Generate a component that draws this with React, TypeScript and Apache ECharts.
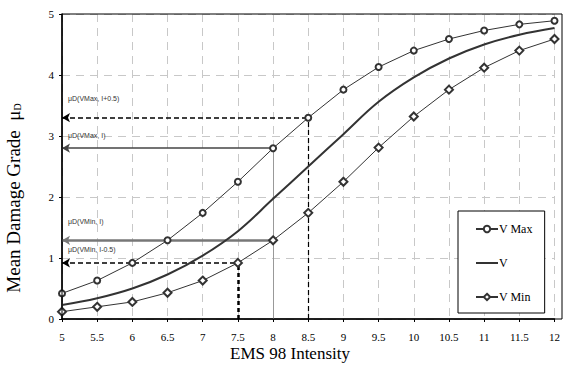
import React, { useEffect, useRef } from "react";
import * as echarts from "echarts";

const intensity = [5, 5.5, 6, 6.5, 7, 7.5, 8, 8.5, 9, 9.5, 10, 10.5, 11, 11.5, 12];
const vMax = [0.42, 0.63, 0.92, 1.29, 1.74, 2.25, 2.8, 3.3, 3.76, 4.13, 4.4, 4.59, 4.73, 4.83, 4.89];
const vMid = [0.23, 0.34, 0.5, 0.73, 1.04, 1.44, 1.97, 2.5, 3.03, 3.56, 3.96, 4.27, 4.5, 4.66, 4.77];
const vMin = [0.12, 0.2, 0.28, 0.43, 0.63, 0.92, 1.29, 1.74, 2.25, 2.81, 3.32, 3.76, 4.12, 4.4, 4.59];
const xTicks = ["5", "5.5", "6", "6.5", "7", "7.5", "8", "8.5", "9", "9.5", "10", "10.5", "11", "11.5", "12"];
const seriesNames = ["V Max", "V", "V Min"];
const annotationLabels = ["μD(VMax, I+0.5)", "μD(VMax, I)", "μD(VMin, I)", "μD(VMin, I-0.5)"];

const SERIF = "Liberation Serif";
const SANS = "Liberation Sans";

function pairs(ys: number[]) {
  return intensity.map((x, i) => [x, ys[i]]);
}

export default function App() {
  const ref = useRef<HTMLDivElement>(null);
  useEffect(() => {
    if (!ref.current) return;
    const chart = echarts.init(ref.current, undefined, { renderer: "svg" });
    const xStart = intensity[0];
    const iMaxHi = 7; // I+0.5 = 8.5
    const iMaxI = 6; // I = 8
    const iMinI = 6; // I = 8
    const iMinLo = 5; // I-0.5 = 7.5

    const hLine = (x: number, y: number, label: string, style: any, dist: number) => [
      {
        coord: [xStart, y],
        symbol: "arrow",
        symbolSize: [7, 8],
        lineStyle: style,
        label: {
          show: true,
          position: "insideStartTop",
          formatter: label,
          distance: [6, dist],
          color: "#333",
          fontSize: 7,
          fontFamily: SANS,
        },
      },
      { coord: [x, y], symbol: "none" },
    ];
    const vLine = (x: number, y: number, style: any) => [
      { coord: [x, 0], symbol: "none", lineStyle: style, label: { show: false } },
      { coord: [x, y], symbol: "none" },
    ];

    chart.setOption({
      animation: false,
      backgroundColor: "#fff",
      grid: { left: 62, right: 1, top: 14, bottom: 46, containLabel: false, show: false },
      xAxis: {
        type: "value",
        min: 5,
        max: 12,
        interval: 0.5,
        axisLine: { show: true, lineStyle: { color: "#000", width: 1.5 } },
        axisTick: { show: true, length: 3, lineStyle: { color: "#000" } },
        axisLabel: {
          margin: 12,
          color: "#000",
          fontSize: 11,
          fontFamily: SERIF,
          formatter: (v: number) => xTicks[intensity.indexOf(v)] ?? String(v),
        },
        splitLine: { show: true, lineStyle: { color: "#c8c8c8", type: [8, 6], width: 1 } },
      },
      yAxis: {
        type: "value",
        min: 0,
        max: 5,
        interval: 1,
        axisLine: { show: true, lineStyle: { color: "#000", width: 1.5 } },
        axisTick: { show: true, length: 3, lineStyle: { color: "#000" } },
        axisLabel: { margin: 8, color: "#000", fontSize: 11, fontFamily: SERIF },
        splitLine: { show: true, lineStyle: { color: "#c8c8c8", type: [8, 6], width: 1 } },
      },
      legend: {
        orient: "vertical",
        left: 458,
        top: 211,
        data: [
          { name: seriesNames[0] },
          { name: seriesNames[1], icon: "path://M0,0 L22,0 L22,2 L0,2 Z", itemStyle: { color: "#333" } },
          { name: seriesNames[2] },
        ],
        borderColor: "#000",
        borderWidth: 1,
        padding: [12, 12, 10, 17],
        itemGap: 22,
        itemWidth: 22,
        itemHeight: 8,
        backgroundColor: "#fff",
        textStyle: { color: "#000", fontSize: 12, fontFamily: SERIF, padding: [0, 0, 0, -4] },
      },
      graphic: [
        {
          type: "text",
          x: 290,
          y: 353,
          style: {
            text: "EMS 98 Intensity",
            fill: "#000",
            font: `17px ${SERIF}`,
            align: "center",
            verticalAlign: "middle",
          },
        },
        {
          type: "text",
          x: 13,
          y: 198,
          rotation: Math.PI / 2,
          style: {
            text: "Mean Damage Grade  μ{sub|D}",
            fill: "#000",
            fontSize: 19,
            fontFamily: SERIF,
            align: "center",
            verticalAlign: "middle",
            rich: {
              sub: { fontSize: 10, fontFamily: SERIF, fill: "#000", padding: [8, 0, 0, 0] },
            },
          },
        },
        {
          type: "rect",
          shape: { x: 62, y: 14, width: 500, height: 305 },
          style: { fill: "none", stroke: "#000", lineWidth: 1 },
          silent: true,
          z: 10,
        },
      ],
      series: [
        {
          name: seriesNames[0],
          type: "line",
          data: pairs(vMax),
          symbol: "emptyCircle",
          symbolSize: 6,
          color: "#333",
          lineStyle: { color: "#333", width: 1 },
          itemStyle: { color: "#333", borderWidth: 1 },
          z: 5,
          markLine: {
            silent: true,
            animation: false,
            z: 3,
            data: [
              hLine(intensity[iMaxHi], vMax[iMaxHi], annotationLabels[0], { color: "#000", width: 1.5, type: [5, 3] }, 16),
              vLine(intensity[iMaxHi], vMax[iMaxHi], { color: "#000", width: 1.2, type: [5, 3] }),
              hLine(intensity[iMaxI], vMax[iMaxI], annotationLabels[1], { color: "#444", width: 1.5, type: "solid" }, 9),
              vLine(intensity[iMaxI], vMax[iMaxI], { color: "#999", width: 1, type: "solid" }),
            ],
          },
        },
        {
          name: seriesNames[1],
          type: "line",
          data: pairs(vMid),
          symbol: "none",
          smooth: 0.4,
          color: "#333",
          lineStyle: { color: "#333", width: 2 },
          z: 5,
        },
        {
          name: seriesNames[2],
          type: "line",
          data: pairs(vMin),
          symbol: "emptyDiamond",
          symbolSize: 8,
          color: "#333",
          lineStyle: { color: "#333", width: 1 },
          itemStyle: { color: "#333", borderWidth: 1 },
          z: 5,
          markLine: {
            silent: true,
            animation: false,
            z: 3,
            data: [
              hLine(intensity[iMinI], vMin[iMinI], annotationLabels[2], { color: "#777", width: 2.5, type: "solid" }, 15),
              hLine(intensity[iMinLo], vMin[iMinLo], annotationLabels[3], { color: "#000", width: 1.5, type: [5, 3] }, 10),
              vLine(intensity[iMinLo], vMin[iMinLo], { color: "#000", width: 2.5, type: [4, 3] }),
            ],
          },
        },
      ],
    });
    return () => chart.dispose();
  }, []);
  return (
    <div
      ref={ref}
      style={{ position: "fixed", left: 0, top: 0, width: 563, height: 365, background: "#fff" }}
    />
  );
}
